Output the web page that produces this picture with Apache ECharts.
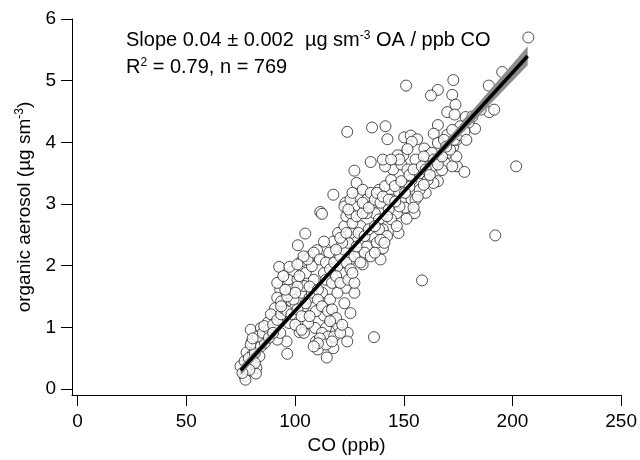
<!DOCTYPE html>
<html>
<head>
<meta charset="utf-8">
<script src="https://cdn.jsdelivr.net/npm/echarts@6/dist/echarts.min.js"></script>
<style>html,body{margin:0;padding:0;background:#fff}#c{width:640px;height:460px}</style>
</head>
<body>
<div id="c"></div>
<script>
// observed points [CO ppb, OA ug/m3]
const obs = [
[207.3,5.70],[195.3,5.14],[189.1,4.92],[172.8,5.01],[151.1,4.92],[165.7,4.85],[162.5,4.76],[172.3,4.77],
[173.8,4.61],[170.0,4.49],[173.4,4.45],[189.3,4.49],[191.6,4.53],[178.5,4.41],[182.8,4.22],[165.7,4.28],
[163.8,4.14],[170.0,4.12],[201.7,3.61],[192.1,2.49],[158.4,1.76],[136.3,0.84],[124.0,4.17],[135.4,4.24],
[141.6,4.26],[142.5,4.05],[134.8,3.68],[127.3,3.54],[117.6,3.15],[111.6,2.87],[112.4,2.84],[104.7,2.52],
[101.3,2.33],[92.7,1.98],[150.2,4.08],[153.2,4.11],[156.2,4.05],[153.7,4.01],[159.5,3.90],[160.7,3.78],
[149.8,3.79],[147.2,3.79],[174.5,3.61],[177.9,3.52],[169.1,3.66],[172.8,3.93],[174.3,4.04],[165.7,3.99],
[167.6,3.55],[165.7,3.37],[163.7,3.34],[155.0,2.85],[151.3,2.76],[147.6,2.53],[139.3,2.10],[140.4,2.28],
[131.1,2.02],[127.3,1.56],[125.5,1.23],[124.2,0.91],[124.0,0.77],[117.6,0.66],[114.6,0.51],[110.5,0.64],
[109.6,0.77],[96.4,0.57],[96.1,0.77],[91.9,0.80],[83.6,0.53],[82.2,0.34],[82.0,0.25],[76.8,0.21],
[77.2,0.15],[74.9,0.37],[77.7,0.59],[80.1,0.76],[79.6,0.96],[87.6,1.08],[84.3,0.99],[93.2,0.91],
[102.1,0.92],[104.1,0.91],[109.2,0.99],[114.2,0.99],[118.0,1.10],[119.8,1.03],[113.3,1.19],[109.6,1.26],
[104.1,1.34],[99.6,1.15],[97.2,1.07],[106.0,1.07],[122.7,1.39],[123.2,1.64],[121.7,1.88],[119.5,1.99],
[115.7,2.21],[117.6,2.39],[113.3,2.39],[110.1,2.25],[106.7,2.15],[103.0,2.07],[98.9,1.91],[97.0,1.77],
[93.2,1.61],[91.8,1.48],[90.8,1.31],[88.9,1.21],[86.1,0.88],[82.4,0.69],[80.5,0.56],[103.0,1.56],
[106.7,1.48],[112.4,1.56],[116.1,1.45],[119.5,1.56],[108.6,1.77],[113.3,1.88],[104.1,1.67],[101.1,1.77],
[95.5,1.39],[99.3,1.45],[119.8,2.53],[122.7,2.64],[123.6,2.80],[123.2,3.02],[127.3,2.96],[129.2,3.12],
[128.3,3.34],[131.1,3.23],[133.0,3.07],[134.8,2.96],[136.7,2.85],[138.6,2.75],[140.4,2.59],[142.3,2.48],
[135.8,2.48],[133.0,2.31],[129.2,2.21],[125.5,2.10],[127.3,2.42],[130.1,2.64],[125.5,2.53],[133.0,2.85],
[134.8,3.18],[138.6,3.23],[141.4,3.29],[144.2,3.39],[145.1,3.56],[141.4,3.61],[140.4,3.72],[148.9,3.64],
[151.7,3.56],[153.6,3.39],[157.3,3.50],[161.0,3.39],[160.1,3.18],[157.3,3.23],[153.6,3.07],[150.6,2.94],
[146.8,2.85],[144.2,3.07],[147.9,3.18],[144.2,2.75],[146.8,2.64],[143.1,2.91],[162.9,3.61],[166.7,3.77],
[170.4,3.83],[162.9,3.83],[168.5,4.04],[176.0,4.26],[179.8,4.32],[181.6,4.42],[185.4,4.53],[155.4,3.72],
[159.2,3.77],[152.6,3.28],[155.4,3.07],[172.3,3.61],[174.2,3.77],[151.7,3.89],[148.0,3.72],[144.2,3.72],
[76.8,0.45],[78.7,0.50],[81.5,0.58],[79.6,0.72],[84.3,0.69],[86.1,0.75],[82.8,0.85],[80.5,0.82],
[85.2,0.91],[88.0,0.96],[85.8,1.02],[89.9,1.04],[88.0,0.83],[81.5,0.42],[79.0,0.31],[75.8,0.26],
[89.9,0.91],[91.8,1.12],[93.6,1.21],[94.6,1.31],[93.6,1.42],[96.4,1.50],[98.3,1.61],[101.1,1.66],
[100.1,1.56],[95.5,1.61],[96.4,1.26],[98.3,1.21],[101.1,1.29],[103.0,1.18],[100.1,1.04],[103.0,0.96],
[106.7,1.18],[104.9,1.39],[107.7,1.56],[106.7,1.66],[110.5,1.61],[110.5,1.45],[112.4,1.34],[115.2,1.26],
[117.0,1.29],[118.9,1.15],[116.1,1.10],[112.4,0.91],[115.2,0.85],[118.0,0.85],[111.4,0.82],[114.2,0.72],
[117.0,0.77],[120.8,0.91],[121.7,1.04],[110.5,0.74],[108.6,0.69],
[104.9,1.88],[107.7,1.99],[105.8,2.10],[108.6,2.21],[111.4,2.10],[114.2,2.05],[116.1,1.94],[114.2,1.77],
[117.0,1.72],[118.9,1.83],[120.8,1.72],[118.0,2.05],[120.8,2.15],[122.7,2.26],[124.5,2.37],[121.7,2.37],
[118.9,2.26],[123.6,2.05],[125.5,1.94],[124.5,1.77],[127.3,1.72],[126.4,1.88],[120.8,2.45],[123.6,2.53],
[126.4,2.69],[125.5,2.85],[128.3,2.80],[131.1,2.85],[129.2,2.53],[132.0,2.48],[133.9,2.59],[132.0,2.21],
[134.8,2.15],[137.6,2.37],[136.7,2.21],[139.3,2.42],[141.1,2.37],[138.6,2.59],[136.7,2.64],[127.3,2.15],
[130.1,2.05],[128.3,2.31],[122.7,2.96],[125.5,3.07],[126.4,3.18],[124.5,2.91],[131.1,3.02],[133.9,2.94],
[136.7,3.07],[139.3,3.02],[137.6,3.18],[140.4,3.12],[142.3,2.80],[143.1,3.07],[145.9,3.29],[148.9,3.37],
[150.6,3.18],[152.6,3.47],[154.5,3.56],[158.3,3.61],[160.1,3.56],[162.0,3.47],[159.2,3.31],[156.4,3.12],
[154.5,2.94],[148.0,2.96],[146.1,3.04],[163.8,3.72],[165.7,3.64],[167.6,3.77],[171.3,3.88],[169.5,3.93],
[173.2,4.04],[176.0,4.12],[177.9,4.18],[178.8,4.04],[172.3,4.20],
[91.8,1.72],[94.6,1.83],[93.6,1.34],[102.0,1.83],[97.4,1.98],[103.9,2.15],[101.1,2.02]
];
// regression fit and its confidence band
const fitX = [75, 207];
const fitY = [0.30, 5.40];
const bandX = [75, 100, 125, 150, 175, 207];
const bandLo = [0.22, 1.22, 2.20, 3.16, 4.08, 5.25];
const bandHi = [0.38, 1.31, 2.26, 3.24, 4.25, 5.56];
const xTicks = [0, 50, 100, 150, 200, 250];
const yTicks = [0, 1, 2, 3, 4, 5, 6];

const FONT = '"Liberation Sans", Arial, sans-serif';
const chart = echarts.init(document.getElementById('c'), null, {renderer: 'canvas'});
chart.setOption({
  animation: false,
  backgroundColor: '#fff',
  grid: {left: 72, right: 15, top: 19, bottom: 64, containLabel: false},
  title: {
    left: 121, top: 22,
    text: 'Slope 0.04 ± 0.002  µg sm{sup|-3} OA / ppb CO\nR{sup|2} = 0.79, n = 769',
    textStyle: {
      fontFamily: FONT, fontSize: 20, fontWeight: 'normal', color: '#000', lineHeight: 27,
      rich: {sup: {fontFamily: FONT, fontSize: 12, color: '#000', padding: [0, 0, 10, 0]}}
    }
  },
  xAxis: {
    type: 'value', min: -2.6, max: 250,
    name: 'CO (ppb)', nameLocation: 'middle', nameGap: 38,
    nameTextStyle: {fontFamily: FONT, fontSize: 19, color: '#000'},
    axisLine: {show: true, onZero: false, lineStyle: {color: '#000', width: 1}},
    axisTick: {show: true, inside: false, length: 11, customValues: xTicks, lineStyle: {color: '#000'}},
    axisLabel: {customValues: xTicks, fontFamily: FONT, fontSize: 19, color: '#000', margin: 17},
    splitLine: {show: false}
  },
  yAxis: {
    type: 'value', min: -0.1, max: 6,
    name: 'organic aerosol (µg sm{sup|-3})', nameLocation: 'middle', nameGap: 33, nameRotate: 90,
    nameTextStyle: {fontFamily: FONT, fontSize: 19, color: '#000',
      rich: {sup: {fontFamily: FONT, fontSize: 12, color: '#000', padding: [0, 0, 10, 0]}}},
    axisLine: {show: true, onZero: false, lineStyle: {color: '#000', width: 1}},
    axisTick: {show: true, inside: false, length: 11, customValues: yTicks, lineStyle: {color: '#000'}},
    axisLabel: {customValues: yTicks, fontFamily: FONT, fontSize: 19, color: '#000', margin: 16},
    splitLine: {show: false}
  },
  series: [
    {
      type: 'scatter', data: obs, symbol: 'circle', symbolSize: 11,
      itemStyle: {color: '#fff', borderColor: '#222', borderWidth: 1},
      z: 2
    },
    {
      type: 'custom', z: 3,
      data: [0],
      renderItem: function (params, api) {
        const pts = [];
        for (let i = 0; i < bandX.length; i++) pts.push(api.coord([bandX[i], bandHi[i]]));
        for (let i = bandX.length - 1; i >= 0; i--) pts.push(api.coord([bandX[i], bandLo[i]]));
        return {type: 'polygon', shape: {points: pts}, style: {fill: '#8c8c8c', stroke: null}};
      }
    },
    {
      type: 'line', z: 4, symbol: 'none',
      data: fitX.map((x, i) => [x, fitY[i]]),
      lineStyle: {color: '#000', width: 3.5}
    }
  ]
});
</script>
</body>
</html>
